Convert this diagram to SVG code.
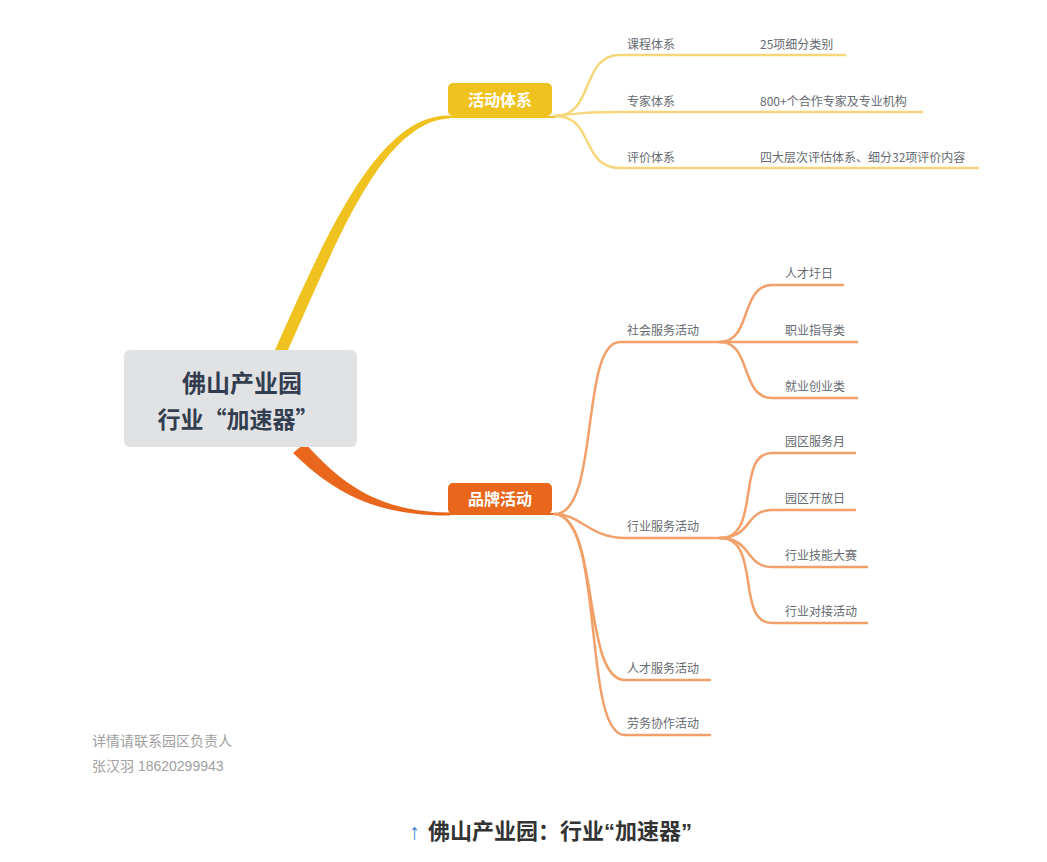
<svg xmlns="http://www.w3.org/2000/svg" width="1047" height="862" viewBox="0 0 1047 862">
<style>
.lbl{font-family:"Noto Sans CJK SC","Liberation Sans",sans-serif;font-size:12px;fill:#666a70}
.node{font-family:"Noto Sans CJK SC","Liberation Sans",sans-serif;font-size:16px;font-weight:bold;fill:#ffffff}
.ylw{fill:none;stroke:#f5d77a;stroke-width:2.5;stroke-linecap:round}
.org{fill:none;stroke:#f2a06a;stroke-width:2.5;stroke-linecap:round}
.foot{font-family:"Liberation Sans","Noto Sans CJK SC",sans-serif;font-size:14px;fill:#a0a0a0}
</style>
<rect width="1047" height="862" fill="#ffffff"/>
<g id="connectors">
  <path d="M275 350 C325 238 378 113 450 115.5 L450 118.5 C382 121 337 242 288 350 Z" fill="#efc21f"/>
  <path d="M305 443 C344 487 382 512 450 512.5 L450 515.5 C378 516 335 494 293 453 Z" fill="#e8671c"/>
  <path d="M448 117 L556 117" fill="none" stroke="#efc21f" stroke-width="2"/>
  <path d="M448 514 L556 514" fill="none" stroke="#e8671c" stroke-width="2"/>
  <path class="ylw" d="M555 116 C595 116 580 55 620 55 L845 55"/>
  <path class="ylw" d="M555 116 C580 113 590 112 620 112 L922 112"/>
  <path class="ylw" d="M555 116 C595 116 580 168 620 168 L978 168"/>
  <path class="org" d="M555 514 C600 514 580 342 620 342 L720 342"/>
  <path class="org" d="M555 514 C580 514 590 538 625 538 L720 538"/>
  <path class="org" d="M555 514 C600 518 582 680 625 680 L710 680"/>
  <path class="org" d="M555 514 C605 518 582 735 625 735 L710 735"/>
  <path class="org" d="M720 342 C752 342 740 285 772 285 L843 285"/>
  <path class="org" d="M720 342 L857 342"/>
  <path class="org" d="M720 342 C752 342 740 398 772 398 L857 398"/>
  <path class="org" d="M720 538 C762 538 735 453 772 453 L855 453"/>
  <path class="org" d="M720 538 C752 538 745 510 772 510 L855 510"/>
  <path class="org" d="M720 538 C752 538 745 567 772 567 L867 567"/>
  <path class="org" d="M720 538 C762 538 735 623 772 623 L867 623"/>
</g>
<g id="root">
  <rect x="124" y="350" width="233" height="97" rx="6" fill="#e1e2e4"/>
  <text x="242" y="392" text-anchor="middle" font-family="'Noto Sans CJK SC','Liberation Sans',sans-serif" font-size="24" font-weight="bold" fill="#333d50">佛山产业园</text>
  <text x="238" y="428" text-anchor="middle" font-family="'Noto Sans CJK SC','Liberation Sans',sans-serif" font-size="23" font-weight="bold" fill="#333d50">行业“加速器”</text>
</g>
<g id="n-huodong">
  <rect x="448" y="83" width="104" height="33" rx="5" fill="#efc21f"/>
  <text class="node" x="500" y="106" text-anchor="middle">活动体系</text>
</g>
<g id="n-pinpai">
  <rect x="448" y="483" width="104" height="31" rx="5" fill="#e8671c"/>
  <text class="node" x="500" y="505" text-anchor="middle">品牌活动</text>
</g>
<g id="n-kecheng"><text class="lbl" x="627" y="49">课程体系</text></g>
<g id="n-kecheng-d"><text class="lbl" x="760" y="49">25项细分类别</text></g>
<g id="n-zhuanjia"><text class="lbl" x="627" y="106">专家体系</text></g>
<g id="n-zhuanjia-d"><text class="lbl" x="760" y="106">800+个合作专家及专业机构</text></g>
<g id="n-pingjia"><text class="lbl" x="627" y="162">评价体系</text></g>
<g id="n-pingjia-d"><text class="lbl" x="760" y="162">四大层次评估体系、细分32项评价内容</text></g>
<g id="n-shehui"><text class="lbl" x="627" y="335">社会服务活动</text></g>
<g id="n-rencaixu"><text class="lbl" x="785" y="278">人才圩日</text></g>
<g id="n-zhiye"><text class="lbl" x="785" y="335">职业指导类</text></g>
<g id="n-jiuye"><text class="lbl" x="785" y="391">就业创业类</text></g>
<g id="n-hangye"><text class="lbl" x="627" y="531">行业服务活动</text></g>
<g id="n-fuwuyue"><text class="lbl" x="785" y="446">园区服务月</text></g>
<g id="n-kaifang"><text class="lbl" x="785" y="503">园区开放日</text></g>
<g id="n-jineng"><text class="lbl" x="785" y="560">行业技能大赛</text></g>
<g id="n-duijie"><text class="lbl" x="785" y="616">行业对接活动</text></g>
<g id="n-rencaifw"><text class="lbl" x="627" y="673">人才服务活动</text></g>
<g id="n-laowu"><text class="lbl" x="627" y="728">劳务协作活动</text></g>
<text class="foot" x="92" y="746">详情请联系园区负责人</text>
<text class="foot" x="92" y="771">张汉羽 18620299943</text>
<text x="409" y="839" font-family="'Liberation Sans','Noto Sans CJK SC',sans-serif" font-size="22" fill="#3d7fd6">↑</text>
<text x="428" y="839" font-family="'Liberation Sans','Noto Sans CJK SC',sans-serif" font-size="22" font-weight="bold" fill="#333333">佛山产业园：行业“加速器”</text>
</svg>
